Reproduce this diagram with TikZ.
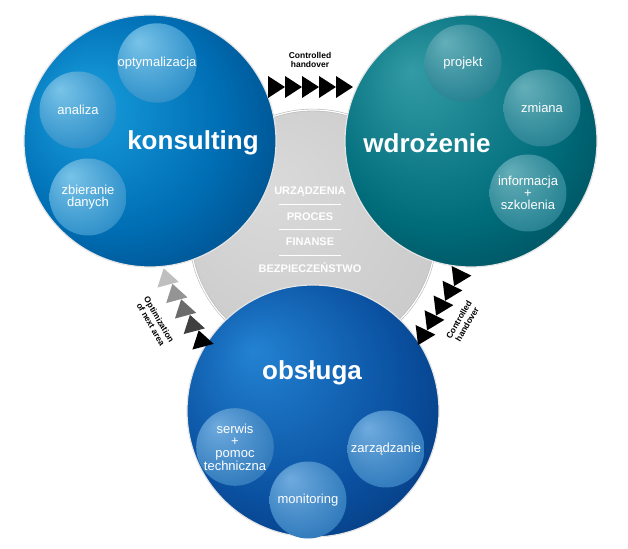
\documentclass[tikz,border=0pt]{standalone}
\usepackage{fontspec}
\setmainfont{Liberation Sans}
\usetikzlibrary{calc}

\definecolor{konshi}{RGB}{25,160,222}
\definecolor{konsmid}{RGB}{0,110,180}
\definecolor{konsdark}{RGB}{0,38,88}
\definecolor{wdrhi}{RGB}{50,155,165}
\definecolor{wdrmid}{RGB}{0,108,122}
\definecolor{wdrdark}{RGB}{0,42,58}
\definecolor{obshi}{RGB}{35,130,210}
\definecolor{obsmid}{RGB}{10,80,160}
\definecolor{obsdark}{RGB}{0,32,85}
\definecolor{kbhi}{RGB}{120,195,232}
\definecolor{kbmid}{RGB}{55,150,205}
\definecolor{kbedge}{RGB}{20,105,165}
\definecolor{wbhi}{RGB}{100,175,185}
\definecolor{wbmid}{RGB}{45,135,150}
\definecolor{wbedge}{RGB}{15,95,110}
\definecolor{obhi}{RGB}{110,170,222}
\definecolor{obmid}{RGB}{55,128,192}
\definecolor{obedge}{RGB}{25,88,158}
\definecolor{corehi}{RGB}{218,218,218}
\definecolor{coreedge}{RGB}{182,182,182}

\pgfdeclareradialshading{konsshade}{\pgfpoint{-14bp}{8bp}}{color(0bp)=(konshi); color(22bp)=(konsmid); color(50bp)=(konsdark)}
\pgfdeclareradialshading{wdrshade}{\pgfpoint{-12bp}{14bp}}{color(0bp)=(wdrhi); color(24bp)=(wdrmid); color(50bp)=(wdrdark)}
\pgfdeclareradialshading{obsshade}{\pgfpoint{-12bp}{12bp}}{color(0bp)=(obshi); color(24bp)=(obsmid); color(50bp)=(obsdark)}
\pgfdeclareradialshading{konsball}{\pgfpoint{-12bp}{14bp}}{color(0bp)=(kbhi); color(28bp)=(kbmid); color(50bp)=(kbedge)}
\pgfdeclareradialshading{wdrball}{\pgfpoint{-12bp}{14bp}}{color(0bp)=(wbhi); color(28bp)=(wbmid); color(50bp)=(wbedge)}
\pgfdeclareradialshading{obsball}{\pgfpoint{-12bp}{14bp}}{color(0bp)=(obhi); color(28bp)=(obmid); color(50bp)=(obedge)}
\pgfdeclareradialshading{coreshade}{\pgfpoint{-10bp}{10bp}}{color(0bp)=(corehi); color(30bp)=(corehi!60!coreedge); color(50bp)=(coreedge)}

\tikzset{
  bigcircle/.style={circle, minimum size=252pt, inner sep=0pt, draw=white!80!gray, line width=1.2pt},
  corecircle/.style={circle, minimum size=246pt, inner sep=0pt, shading=coreshade, draw=gray!55, double=white, double distance=1.2pt, line width=0.6pt},
  smallball/.style={circle, minimum size=77pt, inner sep=0pt, text=white, align=center, font=\fontsize{13}{12}\selectfont},
  bigtext/.style={text=white, font=\bfseries\fontsize{26}{26}\selectfont},
  graytext/.style={text=white, font=\bfseries\fontsize{11}{11}\selectfont},
  handlabel/.style={align=center, inner sep=1pt, font=\bfseries\fontsize{8.5}{9.5}\selectfont},
  sepline/.style={white, line width=0.8pt}
}

% one arrow head of a handover chain: centre, direction, colour
\newcommand\handtri[3]{%
  \fill[#3] #1 +(#2:9) -- +({#2+126}:13.6) -- +({#2-126}:13.6) -- cycle;}

\begin{document}
\begin{tikzpicture}[x=1pt, y=1pt]
\useasboundingbox (0,0) rectangle (628,548);

% centre circle
\node[corecircle] (core) at (313,315) {};
\node[graytext] (urz) at (310,356) {URZĄDZENIA};
\node[graytext] (proc) at (310,331) {PROCES};
\node[graytext] (fin) at (310,306) {FINANSE};
\node[graytext] (bez) at (310,280) {BEZPIECZEŃSTWO};
\draw[sepline] ($(urz)!0.5!(proc)$) ++(-31,0) -- ++(62,0);
\draw[sepline] ($(proc)!0.5!(fin)$) ++(-31,0) -- ++(62,0);
\draw[sepline] ($(fin)!0.5!(bez)$) ++(-31,0) -- ++(62,0);

% konsulting
\node[bigcircle, shading=konsshade] (kons) at (150,407) {};
\node[bigtext] (konstxt) at (193,405) {konsulting};
\node[smallball, shading=konsball] (optym) at (157,485) {optymalizacja};
\node[smallball, shading=konsball] (anal) at (78,438) {analiza};
\node[smallball, shading=konsball] (zbier) at (88,351) {zbieranie\\danych};

% wdrozenie
\node[bigcircle, shading=wdrshade] (wdr) at (471,407) {};
\node[bigtext] (wdrtxt) at (427,405) {wdrożenie};
\node[smallball, shading=wdrball] (proj) at (463,485) {projekt};
\node[smallball, shading=wdrball] (zmian) at (542,440) {zmiana};
\node[smallball, shading=wdrball] (info) at (528,355) {informacja\\+\\szkolenia};

% obsluga
\node[bigcircle, shading=obsshade] (obs) at (313,137) {};
\node[bigtext] (obstxt) at (312,175) {obsługa};
\node[smallball, shading=obsball] (serw) at (235,101) {serwis\\+\\pomoc\\techniczna};
\node[smallball, shading=obsball] (zarz) at (386,99) {zarządzanie};
\node[smallball, shading=obsball] (monit) at (308,48) {monitoring};

% handover arrows
\coordinate (topA) at (276,461);
\coordinate (topB) at (344,461);
\foreach \i in {0,...,4}
  {\handtri{($(topA)!\i/4!(topB)$)}{0}{black}}
\node[handlabel] (toplab) at (310,488) {Controlled\\handover};

\coordinate (rightA) at (458,270);
\coordinate (rightB) at (422,211);
\foreach \i in {0,...,4}
  {\handtri{($(rightA)!\i/4!(rightB)$)}{244}{black}}
\node[handlabel, rotate=60] (rightlab) at (463,226) {Controlled\\handover};

\coordinate (leftA) at (166,271);
\coordinate (leftB) at (201,209);
\foreach \i/\tone in {0/black!25, 1/black!42, 2/black!58, 3/black!75, 4/black}
  {\handtri{($(leftA)!\i/4!(leftB)$)}{105}{\tone}}
\node[handlabel, rotate=-60] (leftlab) at (155,226) {Optimization\\of next area};
\end{tikzpicture}
\end{document}
